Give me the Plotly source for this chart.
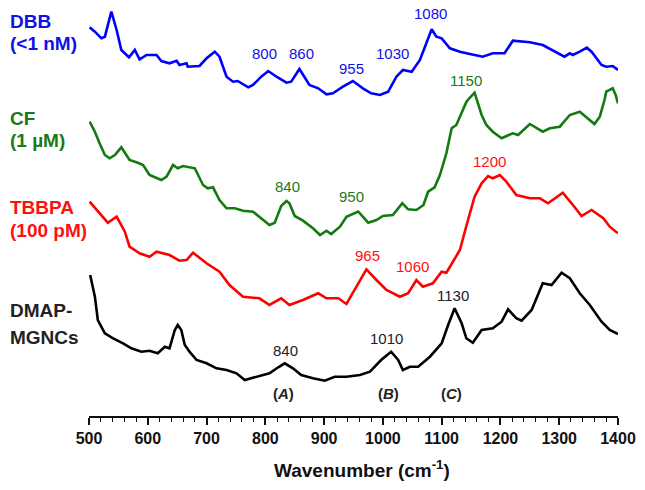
import plotly.graph_objects as go

# ---------------- data (wavenumber in cm-1, intensity in arbitrary offset units) ----------------
dbb_wn = [501, 510, 521, 527, 538, 547, 555, 568, 578, 586, 598, 615, 623, 637, 649, 654, 666, 668,
          688, 700, 714, 722, 734, 745, 753, 771, 779, 793, 805, 819, 836, 844, 858, 875, 890, 904,
          915, 932, 949, 966, 980, 995, 1009, 1023, 1034, 1049, 1063, 1074, 1083, 1091, 1100, 1114,
          1131, 1148, 1170, 1187, 1207, 1221, 1250, 1272, 1289, 1309, 1318, 1323, 1335, 1347, 1355,
          1372, 1380, 1391, 1400]
dbb_int = [388.7, 384.3, 377.7, 379.3, 404.3, 386, 366, 358.7, 366, 356.7, 361, 361, 355, 352.7, 355.3,
           351, 352.7, 349.3, 350, 357.7, 364.3, 359.3, 339.3, 334.3, 335, 328.7, 331, 339.3, 345,
           339.3, 333.3, 334.3, 347, 331, 327.7, 321.7, 322.7, 329.3, 335, 327.7, 322.7, 321, 324.3,
           339.3, 346, 344.3, 356, 372.7, 386.7, 379.3, 377.7, 367.7, 364.3, 362, 359.3, 362.7, 362.7,
           375.3, 373.7, 371, 366, 359.3, 362.7, 361, 364.3, 368.3, 364.3, 351, 349.3, 350, 346]

cf_wn = [501, 510, 518, 527, 535, 544, 555, 569, 583, 592, 603, 623, 632, 643, 651, 660, 680, 694,
         702, 711, 722, 734, 748, 762, 779, 793, 807, 816, 827, 836, 841, 850, 864, 881, 893, 904,
         912, 927, 938, 958, 975, 989, 1000, 1017, 1033, 1043, 1057, 1069, 1077, 1088, 1097, 1108,
         1117, 1125, 1134, 1142, 1147, 1156, 1168, 1176, 1187, 1202, 1221, 1230, 1250, 1272, 1284,
         1301, 1318, 1335, 1360, 1369, 1377, 1380, 1391, 1396, 1400]
cf_int = [294.3, 284.3, 272.7, 261, 257.7, 261, 268.7, 256, 253.3, 251, 241, 236, 239.3, 251, 247.7,
          250, 247.7, 231, 227.7, 228.7, 216, 207.7, 207.7, 205.3, 204.3, 197.7, 191, 193.3, 210, 215,
          212.7, 200, 195.3, 187.7, 181, 185.3, 182, 189.3, 199.3, 204.5, 193.3, 196, 200, 201, 212.7,
          206.7, 206, 211, 224.3, 228.7, 241, 262.7, 287.7, 291, 304, 314, 317.7, 323.3, 301, 291,
          284.3, 277.7, 282.7, 281, 292, 284.3, 287.7, 289.3, 301, 304.3, 292, 299.3, 316, 324.3,
          327.7, 321, 312.7]

tbbpa_wn = [501, 513, 532, 547, 561, 569, 586, 603, 615, 637, 654, 666, 677, 700, 722, 739, 762, 790,
            807, 827, 841, 864, 890, 904, 924, 938, 955, 972, 989, 1006, 1029, 1043, 1057, 1068,
            1085, 1100, 1108, 1119, 1131, 1142, 1156, 1168, 1179, 1187, 1199, 1210, 1227, 1250, 1267,
            1281, 1306, 1321, 1338, 1355, 1375, 1386, 1400]
tbbpa_int = [214.3, 206, 193.3, 199.3, 184.3, 169.3, 162.7, 159.3, 164.3, 161, 155.3, 156, 163.3, 152.7,
             144.3, 131, 119.3, 117.7, 111, 117.7, 111, 116, 122.7, 117.7, 117.7, 112, 129.3, 146.7,
             136, 126, 119.3, 122.7, 136, 129.3, 132.7, 144.3, 143.3, 154.3, 166, 190, 219.3, 232.7,
             240, 237.7, 241, 234.3, 221, 217.7, 217.7, 212.7, 223.3, 212.7, 200, 206, 197.7, 189.3,
             182.7]

dmap_wn = [502, 510, 515, 527, 541, 558, 572, 589, 603, 617, 629, 637, 646, 651, 657, 663, 671, 683,
           700, 717, 734, 751, 765, 785, 807, 822, 833, 847, 861, 881, 901, 918, 938, 961, 978, 997,
           1014, 1026, 1034, 1046, 1060, 1080, 1100, 1111, 1122, 1134, 1142, 1153, 1168, 1187, 1202,
           1213, 1227, 1236, 1253, 1272, 1287, 1304, 1318, 1335, 1352, 1372, 1386, 1400]
dmap_int = [141, 119.3, 96, 82.7, 77.7, 72.7, 67.7, 64.3, 65.3, 62.7, 69.3, 67.7, 86, 91, 86, 71, 64.3,
            56, 52.7, 47.7, 46, 42.7, 36, 39.3, 42.7, 48.7, 52.7, 47.7, 41, 37.7, 35.3, 39.3, 39.3, 41,
            44.3, 56, 64.3, 56, 46, 49.3, 49.3, 59.3, 72.7, 91, 107.7, 92.7, 77.7, 73.3, 86, 87.7, 94.3,
            106.7, 97.7, 95.3, 106, 132.7, 131, 143.3, 137.7, 122.7, 111, 94.3, 86, 82]

series_names = ["DBB", "CF", "TBBPA", "DMAP-MGNCs"]
series_colors = ["#0000FF", "#117A11", "#FF0000", "#000000"]

# peak labels: (text, wavenumber, intensity, series index)
peak_text = ["800", "860", "955", "1030", "1080",
             "1150", "840", "950",
             "1200", "965", "1060",
             "840", "1010", "1130"]
peak_wn = [798, 862, 946, 1017, 1081,
           1141, 837, 947,
           1182, 973, 1050,
           834, 1006, 1120]
peak_int = [363, 363, 348, 363, 403,
            336, 230, 220,
            255, 161, 150,
            66, 78, 121]
peak_series = [0, 0, 0, 0, 0, 1, 1, 1, 2, 2, 2, 3, 3, 3]

band_text = ["A", "B", "C"]
band_wn = [831, 1009, 1116]
band_int = [23, 23, 23]

label_lines = [["DBB", "(<1 nM)"], ["CF", "(1 \u00b5M)"], ["TBBPA", "(100 pM)"], ["DMAP-", "MGNCs"]]
label_int = [[395, 373], [298, 276], [209, 186], [106, 79]]

# ---------------- figure ----------------
xs = [dbb_wn, cf_wn, tbbpa_wn, dmap_wn]
ys = [dbb_int, cf_int, tbbpa_int, dmap_int]

fig = go.Figure()
for name, x, y, c in zip(series_names, xs, ys, series_colors):
    fig.add_trace(go.Scatter(x=x, y=y, mode="lines", name=name,
                             line=dict(color=c, width=2.6), showlegend=False))

label_colors = ["#1010E8", "#1A7A1A", "#FF1010", "#222222"]
for t, x, y, s in zip(peak_text, peak_wn, peak_int, peak_series):
    fig.add_annotation(x=x, y=y, text=t, showarrow=False,
                       font=dict(family="Arial", size=15, color=label_colors[s]),
                       xanchor="center", yanchor="middle")

for t, x, y in zip(band_text, band_wn, band_int):
    fig.add_annotation(x=x, y=y, text="<b>(<i>" + t + "</i>)</b>", showarrow=False,
                       font=dict(family="Arial", size=15, color="#222222"),
                       xanchor="center", yanchor="middle")

for lines, ys_, c in zip(label_lines, label_int, label_colors):
    for t, y in zip(lines, ys_):
        fig.add_annotation(xref="paper", x=-0.1525, y=y, text="<b>" + t + "</b>", showarrow=False,
                           font=dict(family="Arial", size=19, color=c),
                           xanchor="left", yanchor="middle")

fig.add_annotation(xref="paper", yref="paper", x=0.517, y=-0.1275,
                   text="<b>Wavenumber (cm<sup>-1</sup>)</b>", showarrow=False,
                   font=dict(family="Arial", size=19, color="#111111"),
                   xanchor="center", yanchor="middle")

fig.update_xaxes(range=[500, 1400], tickmode="linear", tick0=500, dtick=100,
                 showline=True, linecolor="#111111", linewidth=1.6,
                 ticks="outside", ticklen=7, tickwidth=1.6, tickcolor="#111111",
                 minor=dict(ticks="outside", dtick=20, ticklen=4, tickwidth=1.3, tickcolor="#111111"),
                 showgrid=False, zeroline=False,
                 tickfont=dict(family="Arial", size=16, color="#111111", weight="bold"))
fig.update_yaxes(range=[0, 416], visible=False, showgrid=False, zeroline=False)

fig.update_layout(width=645, height=490, margin=dict(l=89, r=27, t=0, b=74),
                  plot_bgcolor="white", paper_bgcolor="white", showlegend=False)

fig.write_html("out.html", config={"displayModeBar": False},
               post_script="document.body.style.margin='0px';document.body.style.overflow='hidden';")
